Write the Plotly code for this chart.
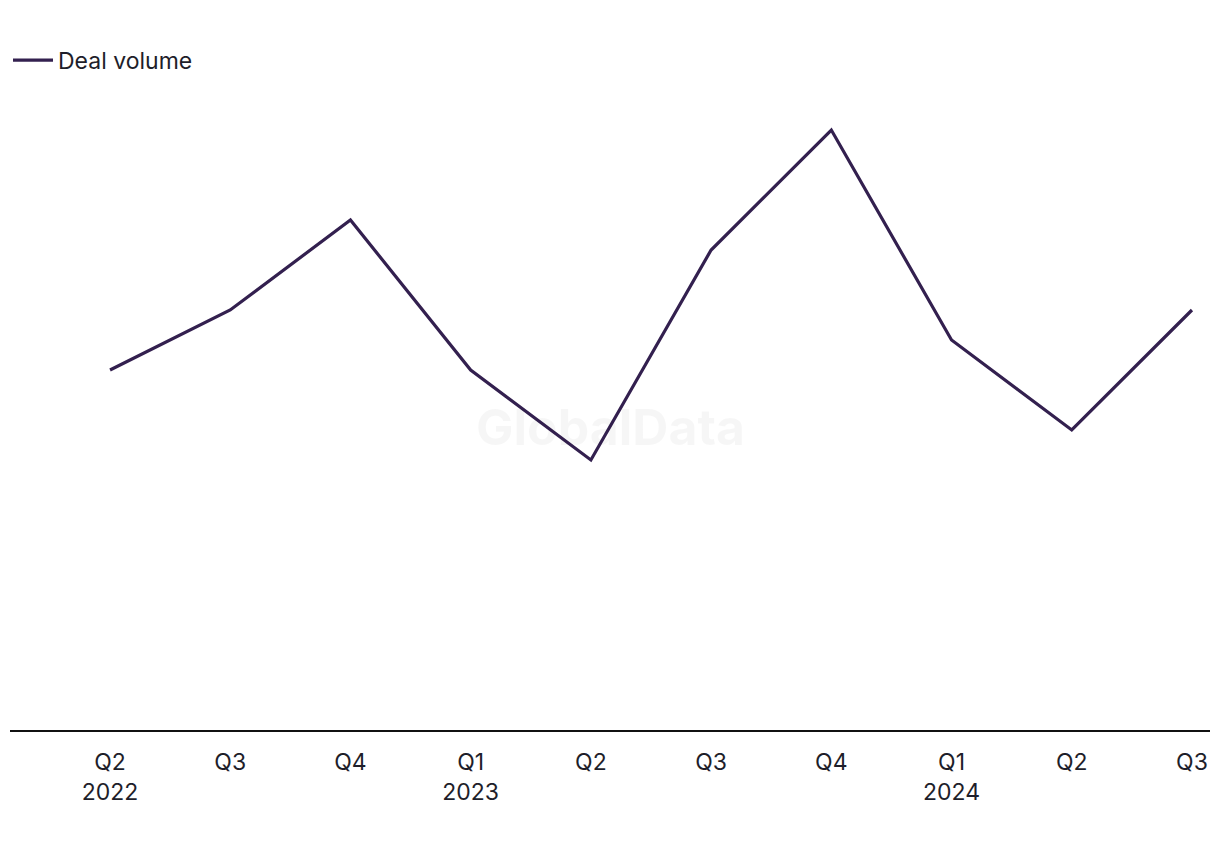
import plotly.graph_objects as go

quarters = ['Q2', 'Q3', 'Q4', 'Q1', 'Q2', 'Q3', 'Q4', 'Q1', 'Q2', 'Q3']
years = ['2022', '', '', '2023', '', '', '', '2024', '', '']
deal_volume = [12, 14, 17, 12, 9, 16, 20, 13, 10, 14]

tick_text = [q + ('<br>' + y if y else '') for q, y in zip(quarters, years)]
idx = list(range(len(quarters)))

fig = go.Figure()
fig.add_trace(go.Scatter(
    x=idx, y=deal_volume, mode='lines', name='Deal volume',
    line=dict(color='#33204f', width=3.2),
))

# faint watermark behind the line
fig.add_annotation(
    text='<b>GlobalData</b>', xref='paper', yref='paper', x=0.5, y=0.481,
    showarrow=False, font=dict(size=50, color='rgba(0,0,0,0.035)', family='Inter'),
)

fig.update_layout(
    width=1220, height=850,
    margin=dict(l=2, r=18, t=92, b=128),
    paper_bgcolor='white', plot_bgcolor='white',
    font=dict(family='Inter, Liberation Sans, sans-serif', size=23, color='#1e1e2a'),
    showlegend=True,
    legend=dict(orientation='h', x=-0.009, y=0.964, yref='container', yanchor='top',
                xanchor='left', font=dict(size=23), bgcolor='rgba(0,0,0,0)',
                itemwidth=40),
    xaxis=dict(
        range=[-0.832, 9.15], tickvals=idx, ticktext=tick_text,
        showgrid=False, zeroline=False, showline=True, linecolor='#111111', linewidth=2,
        ticks='outside', ticklen=10, tickcolor='rgba(0,0,0,0)', tickfont=dict(size=23),
        fixedrange=True,
    ),
    yaxis=dict(range=[0, 21], visible=False, showgrid=False, zeroline=False),
)

fig.write_html('out.html')
